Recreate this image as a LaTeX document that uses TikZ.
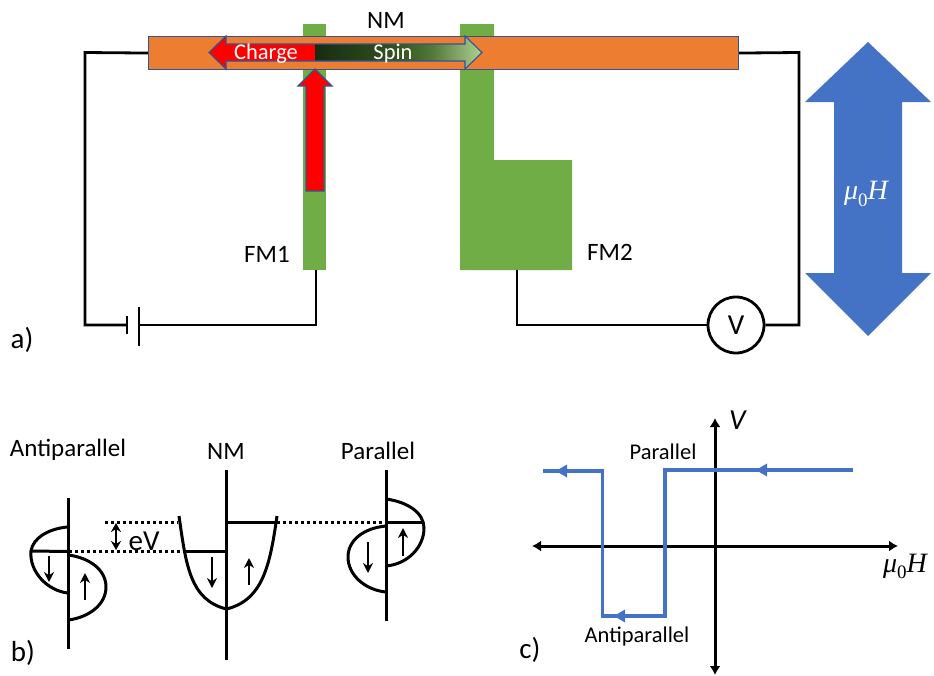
\documentclass[tikz,border=0pt]{standalone}
\usepackage{fontspec}
\setmainfont{Carlito}
\newfontfamily\mathserif{Liberation Serif}
\usetikzlibrary{arrows.meta,calc}
\definecolor{nmorange}{HTML}{ED7D31}
\definecolor{fmgreen}{HTML}{70AD47}
\definecolor{edgeblue}{HTML}{2F5597}
\definecolor{fieldblue}{HTML}{4472C4}
\pgfdeclarehorizontalshading{spinshade}{100bp}{rgb(0bp)=(0.09,0.17,0.07);rgb(25bp)=(0.09,0.17,0.07);rgb(50bp)=(0.20,0.33,0.12);rgb(60bp)=(0.33,0.47,0.22);rgb(75bp)=(0.68,0.82,0.58);rgb(100bp)=(0.68,0.82,0.58)}
\newcommand{\fieldtext}{{\itshape μ}\raisebox{-0.22em}{\fontsize{19}{21}\selectfont 0}{\itshape H}}
\tikzset{
  x=1pt,y=-1pt,
  wire/.style={draw=black,line width=2.8pt},
  band/.style={draw=black,line width=3pt,line join=round},
  spinarrow/.style={draw=black,line width=2.6pt,-{Stealth[length=10pt,width=10pt]}},
  bothspin/.style={draw=black,line width=2.6pt,{Stealth[length=9pt,width=10pt]}-{Stealth[length=9pt,width=10pt]}},
  fermilevel/.style={draw=black,line width=3pt,dash pattern=on 3pt off 3pt},
  axisline/.style={draw=black,line width=3pt,{Latex[length=9pt,width=11pt]}-{Latex[length=9pt,width=11pt]}},
  curveline/.style={draw=fieldblue,line width=3.2pt,line join=miter},
  curvetip/.style={fill=fieldblue,draw=none},
  lbl/.style={font=\fontsize{25}{29}\selectfont,inner sep=0pt,text=black},
  biglbl/.style={font=\fontsize{29}{33}\selectfont,inner sep=0pt,text=black},
  smalllbl/.style={font=\fontsize{22.5}{26}\selectfont,inner sep=0pt,text=black},
  whitelbl/.style={font=\fontsize{22.5}{26}\selectfont,inner sep=0pt,text=white},
  mathlbl/.style={font=\mathserif\fontsize{28}{32}\selectfont,inner sep=0pt},
  fmblock/.style={fill=fmgreen,draw=none},
}
\begin{document}
\begin{tikzpicture}
\useasboundingbox (0,0) rectangle (934,675);
% ferromagnets
\path[fmblock] (303,24) rectangle (326,270);
\path[fmblock] (460,24) -- (494,24) -- (494,160) -- (572,160) -- (572,270) -- (460,270) -- cycle;
% normal metal
\node[fill=nmorange,draw=edgeblue,line width=1.1pt,minimum width=590pt,minimum height=33pt,inner sep=0pt,anchor=north west] (nm) at (148,36) {};
% charge / spin double arrow
\fill[red] (315,44) -- (226,44) -- (226,36) -- (209,52.5) -- (226,69) -- (226,61) -- (315,61) -- cycle;
\shade[shading=spinshade] (315,44) -- (465,44) -- (465,36) -- (482,52.5) -- (465,69) -- (465,61) -- (315,61) -- cycle;
\draw[edgeblue,line width=1.1pt,line join=miter] (226,44) -- (226,36) -- (209,52.5) -- (226,69) -- (226,61) -- (465,61) -- (465,69) -- (482,52.5) -- (465,36) -- (465,44) -- cycle;
\node[whitelbl] (charge) at (266,53.5) {Charge};
\node[whitelbl] (spin) at (393,53.5) {Spin};
% injected current arrow
\draw[fill=red,draw=edgeblue,line width=1.1pt] (315,69) -- (332,86) -- (324,86) -- (324,191) -- (306,191) -- (306,86) -- (298,86) -- cycle;
% field arrow
\path[fill=fieldblue] (868,42) -- (931,102) -- (902,102) -- (902,273) -- (931,273) -- (868,336) -- (805,273) -- (834,273) -- (834,102) -- (805,102) -- cycle;
\node[mathlbl,text=white] (field) at (866,194) {\fieldtext};
% circuit
\coordinate (fm1foot) at (316,270);
\coordinate (fm2foot) at (517,270);
\coordinate (battneg) at (127,325);
\coordinate (battpos) at (139,325);
\coordinate (leftcorner) at (85,325);
\node[circle,draw=black,line width=2.8pt,minimum size=56pt,inner sep=0pt,font=\fontsize{29}{33}\selectfont] (volt) at (736,325) {V};
\draw[wire] (nm.west) -- (85,52.5) -- (leftcorner) -- (battneg);
\draw[wire] (127,316) -- (127,334);
\draw[wire] (139,307) -- (139,346);
\draw[wire] (battpos) -- (316,325) -- (fm1foot);
\draw[wire] (fm2foot) -- (517,325) -- (volt.west);
\draw[wire] (volt.east) -- (799,325) -- (799,52.5) -- (nm.east);
% top labels
\node[lbl] (lnm) at (386,20) {NM};
\node[lbl] (lfm1) at (267,254) {FM1};
\node[lbl] (lfm2) at (610,252) {FM2};
\node[biglbl] (la) at (22,340) {a)};
% panel b
\node[lbl] (lap) at (68,450) {Antiparallel};
\node[lbl] (lnmb) at (226,451) {NM};
\node[lbl] (lp) at (378,451) {Parallel};
\node[biglbl] (lb) at (23,653) {b)};
% dotted Fermi levels
\coordinate (apf) at (68.5,551.5);
\coordinate (nmlow) at (186,551.5);
\coordinate (nmhighl) at (105,522);
\coordinate (nmhighm) at (178,522);
\coordinate (nmhighr) at (277,522);
\coordinate (pf) at (386,522);
\draw[fermilevel] (apf) -- (nmlow);
\draw[fermilevel] (nmhighl) -- (nmhighm);
\draw[fermilevel] (nmhighr) -- (pf);
\draw[bothspin] (116,523) -- (116,550);
\node[biglbl] (ev) at (144,541) {eV};
% antiparallel bands
\draw[band] (68.5,498) -- (68.5,649);
\draw[band] (67,527) .. controls (48,529) and (33,538) .. (31,551) .. controls (29,572) and (48,591) .. (68,593);
\draw[band] (31,551) -- (apf);
\draw[band] (68.5,555) .. controls (90,558) and (106,570) .. (106,587) .. controls (106,604) and (90,617) .. (68.5,620);
\draw[spinarrow] (49,556) -- (49,582);
\draw[spinarrow] (85,600) -- (85,573);
% NM bands
\draw[band] (226.5,470) -- (226.5,660);
\draw[band] (179,516) .. controls (186,565) and (190,600) .. (226.5,609) .. controls (263,600) and (270,565) .. (277,516);
\draw[band] (186,551.5) -- (226.5,551.5);
\draw[band] (226.5,522) -- (276,522);
\draw[spinarrow] (212,557) -- (212,588);
\draw[spinarrow] (249,585) -- (249,558);
% parallel bands
\draw[band] (386,470) -- (386,621);
\draw[band] (386,499) .. controls (408,502) and (424,513) .. (424,528) .. controls (424,547) and (408,564) .. (386,566);
\draw[band] (386,526) .. controls (364,528) and (348,540) .. (348,557) .. controls (348,575) and (365,590) .. (386,592);
\draw[band] (pf) -- (423,522);
\draw[spinarrow] (403,556) -- (403,528);
\draw[spinarrow] (368,542) -- (368,573);
% panel c
\draw[axisline] (532,546) -- (898,546);
\draw[axisline] (715,418) -- (715,675);
\draw[curveline] (853,470) -- (665,470) -- (665,616) -- (602.5,616) -- (602.5,471) -- (543,471);
\path[curvetip] (756,470) -- (767,463.5) -- (767,476.5) -- cycle;
\path[curvetip] (556,471) -- (567,464.5) -- (567,477.5) -- cycle;
\path[curvetip] (614,616) -- (625,609.5) -- (625,622.5) -- cycle;
\node[biglbl] (lv) at (738,420) {\textit{V}};
\node[smalllbl] (lpc) at (663,452) {Parallel};
\node[smalllbl] (lapc) at (637,636) {Antiparallel};
\node[mathlbl] (lmu) at (905,566) {\fieldtext};
\node[biglbl] (lc) at (530,650) {c)};
\end{tikzpicture}
\end{document}
